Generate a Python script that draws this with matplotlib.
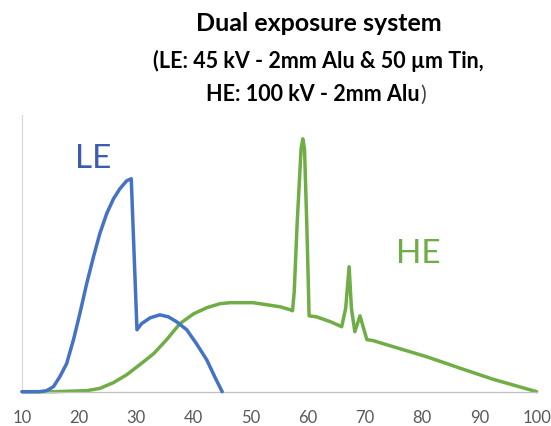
import matplotlib
matplotlib.use("Agg")
import matplotlib.pyplot as plt

plt.rcParams['font.family'] = ['Lato', 'DejaVu Sans']

# Low energy spectrum (45 kV, 2 mm Al + 50 um Sn) - keV vs relative intensity
le_kev = [10, 13, 14.3, 15.5, 16.6, 17.8, 19, 20.1, 21.3, 22.5, 23.6, 24.8,
          26, 27.1, 28.3, 29.1, 30.1, 30.9, 32.4, 34.1, 35.6, 37, 38.8,
          40.5, 42.3, 43.7, 45]
le_int = [0, 0, 0.4, 2.0, 5.9, 11.1, 20.6, 30.8, 42.7, 53.4, 62.5, 70.4,
          76.3, 80.2, 83.4, 84.2, 24.5, 26.9, 29.2, 30.4, 29.6, 27.7, 24.5,
          19.0, 12.6, 5.9, 0]

# High energy spectrum (100 kV, 2 mm Al) with tungsten K lines
he_kev = [10, 15.4, 21.3, 23.6, 26, 28.3, 30.6, 33, 35.3, 37.6, 40, 42.3,
          44.6, 46.4, 50.4, 53.9, 55.1, 56.9, 57.3, 57.6, 58.1, 58.8, 59.1,
          59.4, 59.8, 60.1, 60.2, 61.5, 63.9, 65.9, 66.6, 67.2, 67.6, 68.2,
          69.1, 70.3, 71.4, 74.9, 80.8, 86.6, 92.4, 100]
he_int = [0, 0, 0.4, 1.3, 3.6, 6.7, 10.7, 15.0, 20.6, 26.9, 30.8, 33.2,
          34.8, 35.2, 35.2, 34.0, 33.6, 32.4, 32.0, 39.5, 66, 96, 100,
          96, 66, 39.5, 30.0, 29.6, 27.7, 25.7, 33, 49.4, 33, 23.7,
          30.0, 20.6, 20.2, 17.8, 13.8, 9.3, 4.9, 0]

x_ticks = [10, 20, 30, 40, 50, 60, 70, 80, 90, 100]

blue = '#4472C4'
green = '#70AD47'

fig = plt.figure(figsize=(5.51, 4.26), dpi=100)
ax = fig.add_axes([0.040, 0.0805, 0.934, 0.6495])

ax.plot(le_kev, le_int, color=blue, lw=2.5, solid_joinstyle='round',
        solid_capstyle='round', clip_on=False, zorder=3)
ax.plot(he_kev, he_int, color=green, lw=2.5, solid_joinstyle='round',
        solid_capstyle='round', clip_on=False, zorder=2)

ax.set_xlim(10, 100)
ax.set_ylim(0, 109.4)
ax.set_xticks(x_ticks)
ax.set_xticklabels([str(v) for v in x_ticks])
ax.set_yticks([])
ax.tick_params(axis='x', length=0, pad=13, labelsize=12, labelcolor='#595959')

for side in ('top', 'right'):
    ax.spines[side].set_visible(False)
ax.spines['bottom'].set_color('#BFBFBF')
ax.spines['bottom'].set_linewidth(0.9)
ax.spines['left'].set_color('#D9D9D9')
ax.spines['left'].set_linewidth(0.9)

ax.text(22.5, 92, 'LE', color='#3A5DAE', fontsize=24, ha='center', va='center')
ax.text(79.3, 54.5, 'HE', color=green, fontsize=24, ha='center', va='center')

# title block
fig.text(0.578, 0.945, 'Dual exposure system', fontsize=18, fontweight='bold',
         ha='center', va='center')
fig.text(0.577, 0.856, '(LE: 45 kV - 2mm Alu & 50 \u00b5m Tin,', fontsize=15.5,
         fontweight='bold', ha='center', va='center')
t = fig.text(0.567, 0.777, 'HE: 100 kV - 2mm Alu', fontsize=15.5,
             fontweight='bold', ha='center', va='center')
fig.canvas.draw()
bb = t.get_window_extent()
fig.text((bb.x1 + 1) / fig.bbox.width, 0.777, ')', fontsize=15.5,
         color='#404040', va='center', ha='left')

fig.savefig('out.png', dpi=100)
